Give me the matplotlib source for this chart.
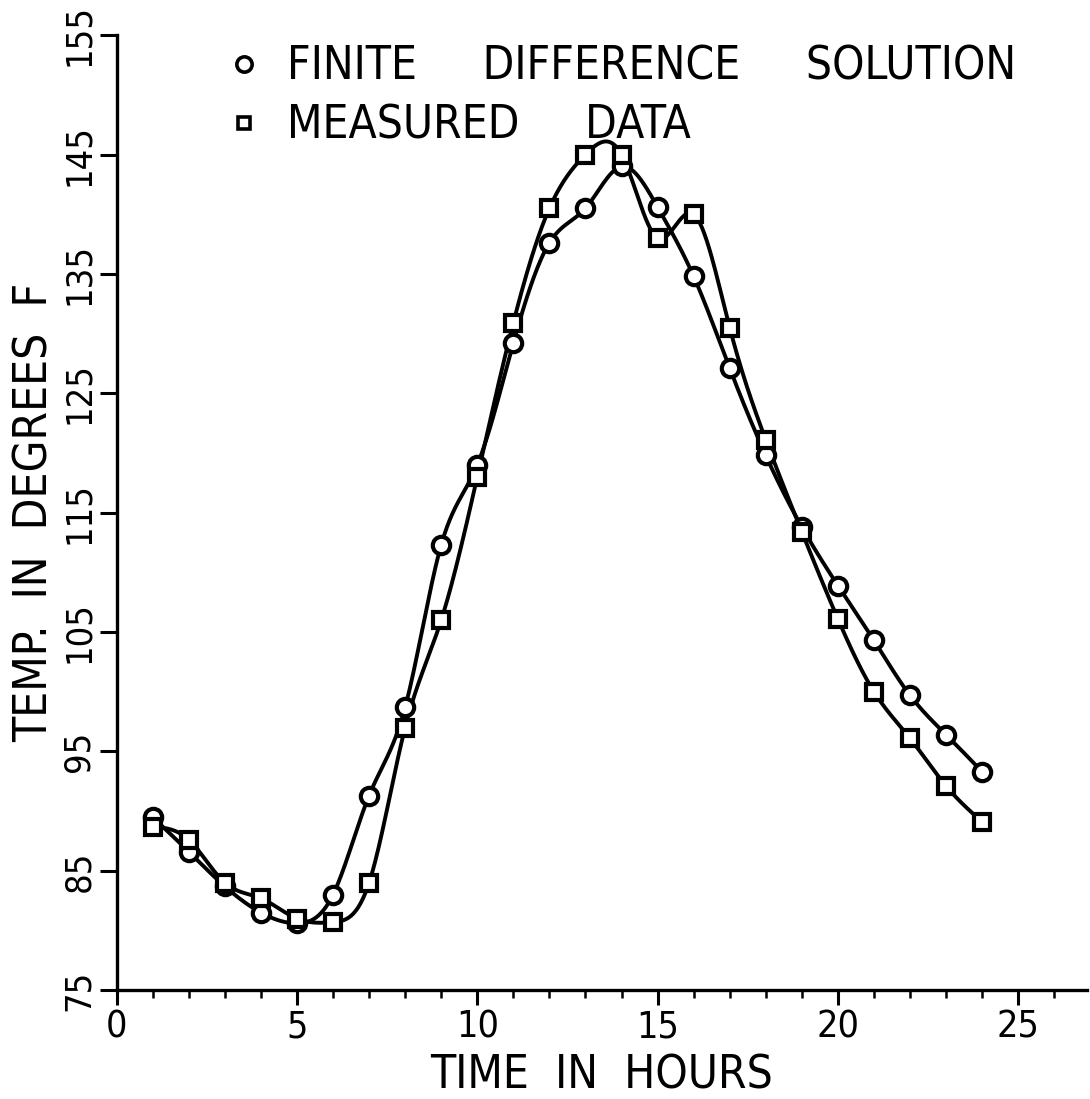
import numpy as np
import matplotlib
matplotlib.use("Agg")
import matplotlib.pyplot as plt
from matplotlib.lines import Line2D

# hourly temperatures, deg F
hours = np.arange(1, 25)
finite_diff = [89.5, 86.6, 83.7, 81.5, 80.6, 83.0, 91.3, 98.7, 112.3, 119.0,
               129.2, 137.6, 140.5, 144.0, 140.6, 134.8, 127.1, 119.8, 113.8,
               108.9, 104.3, 99.7, 96.4, 93.3]
measured = [88.7, 87.6, 84.0, 82.7, 81.0, 80.7, 84.0, 97.0, 106.0, 118.0,
            130.9, 140.5, 145.0, 145.0, 138.0, 140.0, 130.5, 121.1, 113.4,
            106.1, 100.0, 96.1, 92.1, 89.1]

x_ticks = [0, 5, 10, 15, 20, 25]
y_ticks = [75, 85, 95, 105, 115, 125, 135, 145, 155]

plt.rcParams["font.family"] = "DejaVu Sans"
plt.rcParams["font.stretch"] = "condensed"


def natural_spline(x, y, per_seg=30):
    """Natural cubic spline through (x, y) for a smooth plotter-style curve."""
    x = np.asarray(x, float)
    y = np.asarray(y, float)
    n = len(x)
    h = np.diff(x)
    A = np.zeros((n, n))
    b = np.zeros(n)
    A[0, 0] = A[-1, -1] = 1.0
    for i in range(1, n - 1):
        A[i, i - 1] = h[i - 1]
        A[i, i] = 2 * (h[i - 1] + h[i])
        A[i, i + 1] = h[i]
        b[i] = 6 * ((y[i + 1] - y[i]) / h[i] - (y[i] - y[i - 1]) / h[i - 1])
    M = np.linalg.solve(A, b)
    xs, ys = [], []
    for i in range(n - 1):
        t = np.linspace(x[i], x[i + 1], per_seg, endpoint=False)
        a = x[i + 1] - t
        c = t - x[i]
        s = (M[i] * a ** 3 + M[i + 1] * c ** 3) / (6 * h[i]) \
            + (y[i] / h[i] - M[i] * h[i] / 6) * a \
            + (y[i + 1] / h[i] - M[i + 1] * h[i] / 6) * c
        xs.append(t)
        ys.append(s)
    xs.append([x[-1]])
    ys.append([y[-1]])
    return np.concatenate(xs), np.concatenate(ys)


fig = plt.figure(figsize=(10.9, 10.99), dpi=100)
ax = fig.add_axes([0.107, 0.099, 0.890, 0.869])

lw = 2.8
for vals, mk, ms in [(finite_diff, "o", 12.5), (measured, "s", 11.5)]:
    sx, sy = natural_spline(hours, vals)
    ax.plot(sx, sy, color="black", lw=lw, zorder=2)
    ax.plot(hours, vals, linestyle="none", marker=mk, markersize=ms,
            markerfacecolor="white", markeredgecolor="black",
            markeredgewidth=3.0, zorder=3)

ax.set_xlim(0, 26.9)
ax.set_ylim(75, 155)
ax.set_xticks(x_ticks)
ax.set_xticks(np.arange(0, 27, 1), minor=True)
ax.set_yticks(y_ticks)

for side in ("top", "right"):
    ax.spines[side].set_visible(False)
for side in ("left", "bottom"):
    ax.spines[side].set_linewidth(2.4)

ax.tick_params(axis="x", which="major", direction="out", length=11,
               width=2.2, pad=3, labelsize=27)
ax.tick_params(axis="x", which="minor", direction="out", length=6, width=1.8)
ax.tick_params(axis="y", which="major", direction="out", length=12,
               width=2.2, pad=3, labelsize=26)

for lab in ax.get_yticklabels():
    lab.set_rotation(90)
    lab.set_va("center")

ax.set_xlabel("TIME  IN  HOURS", fontsize=33, labelpad=6)
ax.set_ylabel("TEMP.  IN  DEGREES  F", fontsize=33, labelpad=3)

handles = [
    Line2D([], [], linestyle="none", marker="o", markersize=11,
           markerfacecolor="white", markeredgecolor="black", markeredgewidth=2.6),
    Line2D([], [], linestyle="none", marker="s", markersize=9,
           markerfacecolor="white", markeredgecolor="black", markeredgewidth=2.6),
]
leg = ax.legend(handles, ["FINITE     DIFFERENCE     SOLUTION",
                          "MEASURED     DATA"],
                loc="upper left", bbox_to_anchor=(0.065, 1.033), frameon=False,
                handlelength=1.0, handletextpad=0.45, labelspacing=0.3,
                prop=dict(size=33))

fig.savefig("out.png", dpi=100, facecolor="white")
